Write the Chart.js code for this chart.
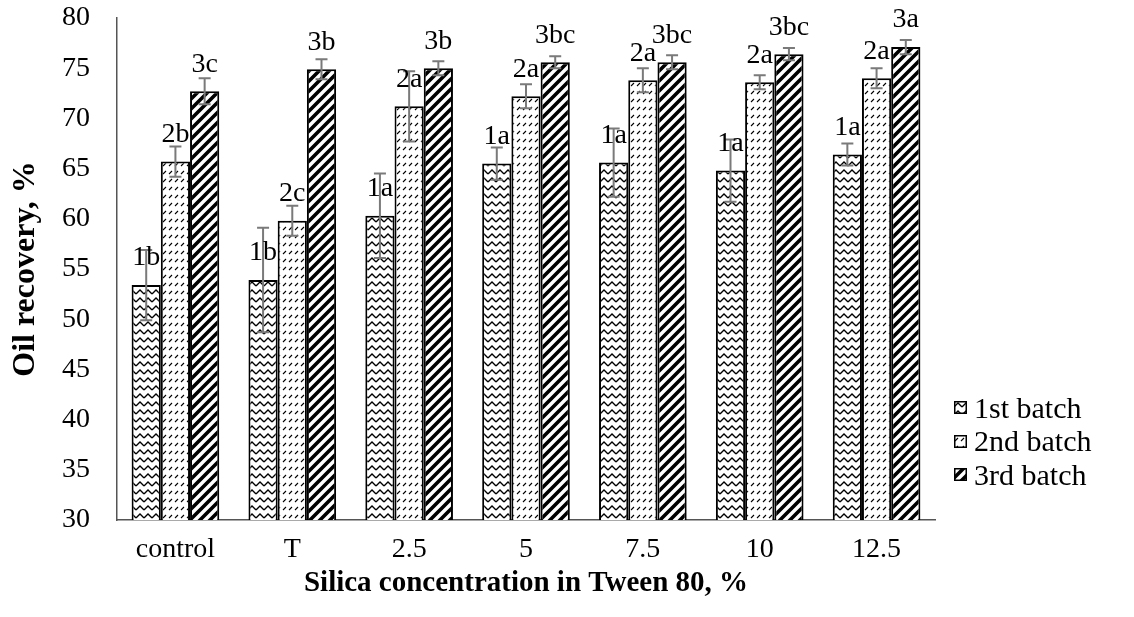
<!DOCTYPE html>
<html>
<head>
<meta charset="utf-8">
<script src="https://cdn.jsdelivr.net/npm/chart.js@4.4.1/dist/chart.umd.min.js"></script>
<style>
    body { margin: 0; background: #fff; }
    #wrap { position: relative; width: 1134px; height: 617px; }
    #legend { position: absolute; left: 954px; top: 391px; list-style: none; margin: 0; padding: 0;
              font-family: 'Liberation Serif', 'Times New Roman', serif; font-size: 30px; color: #000; }
    #legend li { height: 33.5px; display: flex; align-items: center; white-space: nowrap; }
    #legend canvas { margin-right: 7px; }
</style>
</head>
<body>
<div id="wrap">
    <canvas id="myChart" width="1134" height="617"></canvas>
    <ul id="legend"></ul>
</div>
<script>
const categories = ['control', 'T', '2.5', '5', '7.5', '10', '12.5'];
const seriesNames = ['1st batch', '2nd batch', '3rd batch'];

const batch1 = [53.4, 53.9, 60.3, 65.5, 65.6, 64.8, 66.4];
const batch2 = [65.7, 59.8, 71.2, 72.2, 73.8, 73.6, 74.0];
const batch3 = [72.7, 74.9, 75.0, 75.6, 75.6, 76.4, 77.1];

const err1 = [3.5, 5.2, 4.2, 1.6, 3.4, 3.1, 1.1];
const err2 = [1.5, 1.5, 3.5, 1.2, 1.2, 0.7, 1.0];
const err3 = [1.3, 1.0, 0.7, 0.6, 0.7, 0.6, 0.7];

const labels1 = ['1b', '1b', '1a', '1a', '1a', '1a', '1a'];
const labels2 = ['2b', '2c', '2a', '2a', '2a', '2a', '2a'];
const labels3 = ['3c', '3b', '3b', '3bc', '3bc', '3bc', '3a'];

const serif = "'Liberation Serif', 'Times New Roman', serif";

// pattern tiles
function makeTile(w, h, draw) {
    let c = document.createElement('canvas');
    c.width = w;
    c.height = h;
    let g = c.getContext('2d');
    g.fillStyle = '#fff';
    g.fillRect(0, 0, w, h);
    g.strokeStyle = '#000';
    draw(g);
    return c;
}

let waveTile = makeTile(8, 8, function (g) {
    g.lineWidth = 1.3;
    g.beginPath();
    g.moveTo(0, 6);
    g.lineTo(4, 2);
    g.lineTo(8, 6);
    g.stroke();
});

let dashTile = makeTile(6, 8, function (g) {
    g.lineWidth = 1.1;
    g.beginPath();
    g.moveTo(1, 6);
    g.lineTo(4, 3);
    g.stroke();
});

let stripeTile = makeTile(10, 10, function (g) {
    g.lineWidth = 3.6;
    g.beginPath();
    g.moveTo(-5, 5); g.lineTo(5, -5);
    g.moveTo(0, 10); g.lineTo(10, 0);
    g.moveTo(5, 15); g.lineTo(15, 5);
    g.stroke();
});

const ctx = document.getElementById('myChart').getContext('2d');
const tiles = [waveTile, dashTile, stripeTile];
const patterns = tiles.map(t => ctx.createPattern(t, 'repeat'));
const errors = [err1, err2, err3];
const pointLabels = [labels1, labels2, labels3];

const errorBarPlugin = {
    id: 'errorBars',
    afterDatasetsDraw(chart) {
        let c = chart.ctx;
        let yScale = chart.scales.y;
        c.save();
        c.strokeStyle = '#7a7a7a';
        c.lineWidth = 2;
        chart.data.datasets.forEach(function (ds, i) {
            let meta = chart.getDatasetMeta(i);
            meta.data.forEach(function (bar, j) {
                let v = ds.data[j];
                let e = errors[i][j];
                let yt = yScale.getPixelForValue(v + e);
                let yb = yScale.getPixelForValue(v - e);
                c.beginPath();
                c.moveTo(bar.x, yt); c.lineTo(bar.x, yb);
                c.moveTo(bar.x - 6, yt); c.lineTo(bar.x + 6, yt);
                c.moveTo(bar.x - 6, yb); c.lineTo(bar.x + 6, yb);
                c.stroke();
            });
        });
        c.fillStyle = '#000';
        c.font = '28px ' + serif;
        c.textAlign = 'center';
        c.textBaseline = 'middle';
        chart.data.datasets.forEach(function (ds, i) {
            let meta = chart.getDatasetMeta(i);
            meta.data.forEach(function (bar, j) {
                c.fillText(pointLabels[i][j], bar.x, bar.y - 27);
            });
        });
        c.restore();
    }
};

let myChart = new Chart(ctx, {
    type: 'bar',
    data: {
        labels: categories,
        datasets: [batch1, batch2, batch3].map(function (d, i) {
            return {
                label: seriesNames[i],
                data: d,
                backgroundColor: patterns[i],
                borderColor: '#000',
                borderWidth: 2,
                barPercentage: 1.0,
                categoryPercentage: 0.75
            };
        })
    },
    options: {
        responsive: false,
        animation: false,
        layout: { padding: { left: 0, right: 199, top: 0, bottom: 16 } },
        plugins: {
            legend: { display: false },
            tooltip: { enabled: false }
        },
        scales: {
            x: {
                grid: { display: false, drawTicks: false },
                border: { display: true, color: '#555', width: 1.5 },
                ticks: { color: '#000', font: { family: serif, size: 28 }, padding: 13 },
                title: {
                    display: true,
                    text: 'Silica concentration in Tween 80, %',
                    color: '#000',
                    font: { family: serif, size: 29, weight: 'bold' },
                    padding: { top: 0, bottom: 0 }
                },
                afterFit: function (scale) {
                    scale.height = 81;
                }
            },
            y: {
                min: 30,
                max: 80,
                grid: { display: false, drawTicks: false },
                border: { display: true, color: '#555', width: 1.5 },
                ticks: { stepSize: 5, color: '#000', font: { family: serif, size: 28 }, padding: 27 },
                title: {
                    display: true,
                    text: 'Oil recovery, %',
                    color: '#000',
                    font: { family: serif, size: 32, weight: 'bold' },
                    padding: { top: 7, bottom: 0 }
                },
                afterFit: function (scale) {
                    scale.width = 117;
                    scale.paddingTop = 18;
                    scale.paddingBottom = 0;
                }
            }
        }
    },
    plugins: [errorBarPlugin]
});

function generateLegend(ulRootElement) {
    for (var i = 0; i < seriesNames.length; i++) {
        let li = document.createElement('li');
        let box = document.createElement('canvas');
        box.width = 13;
        box.height = 13;
        let g = box.getContext('2d');
        g.fillStyle = g.createPattern(tiles[i], 'repeat');
        g.fillRect(0, 0, 13, 13);
        g.strokeStyle = '#000';
        g.lineWidth = 1.5;
        g.strokeRect(0.75, 0.75, 11.5, 11.5);
        let span = document.createElement('span');
        span.textContent = seriesNames[i];
        li.append(box);
        li.append(span);
        ulRootElement.append(li);
    }
}

generateLegend(document.getElementById('legend'));
</script>
</body>
</html>
